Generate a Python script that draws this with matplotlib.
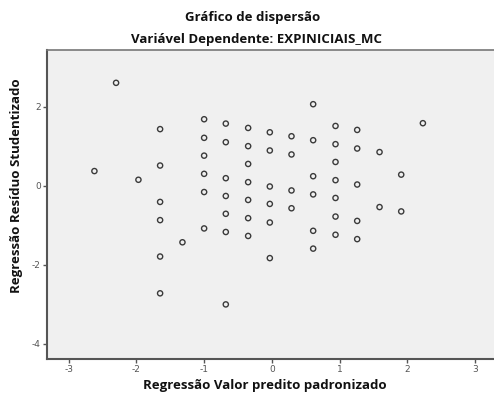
import matplotlib
matplotlib.use("Agg")
import matplotlib.pyplot as plt

plt.rcParams['axes.unicode_minus'] = False

# Predicted value columns and studentized residuals
x_vals = ([-2.62] + [-2.30] + [-1.97] + [-1.65]*6 + [-1.32] + [-1.00]*6 + [-0.68]*7 +
          [-0.35]*7 + [-0.03]*6 + [0.29]*4 + [0.61]*6 + [0.94]*7 + [1.26]*5 +
          [1.59]*2 + [1.91]*2 + [2.23])
y_vals = ([0.37] + [2.60] + [0.15] +
          [1.43, 0.51, -0.41, -0.87, -1.79, -2.72] +
          [-1.43] +
          [1.68, 1.21, 0.76, 0.30, -0.16, -1.08] +
          [1.57, 1.10, 0.19, -0.26, -0.71, -1.17, -3.00] +
          [1.46, 1.00, 0.55, 0.09, -0.36, -0.82, -1.27] +
          [1.35, 0.89, -0.02, -0.46, -0.93, -1.83] +
          [1.25, 0.79, -0.12, -0.57] +
          [2.06, 1.15, 0.24, -0.22, -1.14, -1.59] +
          [1.51, 1.05, 0.60, 0.14, -0.31, -0.78, -1.24] +
          [1.41, 0.94, 0.03, -0.89, -1.35] +
          [0.85, -0.54] +
          [0.28, -0.65] +
          [1.58])

x_ticks = [-3, -2, -1, 0, 1, 2, 3]
y_ticks = [2, 0, -2, -4]

title1 = "Gráfico de dispersão"
title2 = "Variável Dependente: EXPINICIAIS_MC"
xlabel = "Regressão Valor predito padronizado"
ylabel = "Regressão Resíduo Studentizado"

fig = plt.figure(figsize=(4.94, 3.94), dpi=100)
ax = fig.add_axes([47/494, 35/394, 447/494, 309/394])
ax.set_facecolor('#f0f0f0')

ax.scatter(x_vals, y_vals, s=14, facecolors='none', edgecolors='#3a3a3a',
           linewidths=1.0, zorder=3)

ax.set_xlim(-3.32, 3.28)
ax.set_ylim(-4.38, 3.43)
ax.set_xticks(x_ticks)
ax.set_yticks(y_ticks)
ax.tick_params(axis='both', labelsize=6.5, colors='#555555', length=3,
               width=1, direction='out', pad=1.5)

for side in ['left', 'bottom']:
    ax.spines[side].set_color('#555555')
    ax.spines[side].set_linewidth(1.5)
ax.spines['top'].set_color('#777777')
ax.spines['top'].set_linewidth(1.2)
ax.spines['right'].set_visible(False)

font = 'Open Sans'
fig.text(253/494, 1 - 17/394, title1, ha='center', va='center',
         fontsize=9.5, fontweight='bold', family=font, color='#111111')
fig.text(256/494, 1 - 40/394, title2, ha='center', va='center',
         fontsize=9.5, fontweight='bold', family=font, color='#111111')
fig.text(265/494, 1 - 385/394, xlabel, ha='center', va='center',
         fontsize=9.5, fontweight='bold', family=font, color='#111111')
fig.text(17/494, 1 - 186/394, ylabel, ha='center', va='center',
         rotation=90, fontsize=9.5, fontweight='bold', family=font, color='#111111')

fig.savefig('out.png', dpi=100, facecolor='white')
